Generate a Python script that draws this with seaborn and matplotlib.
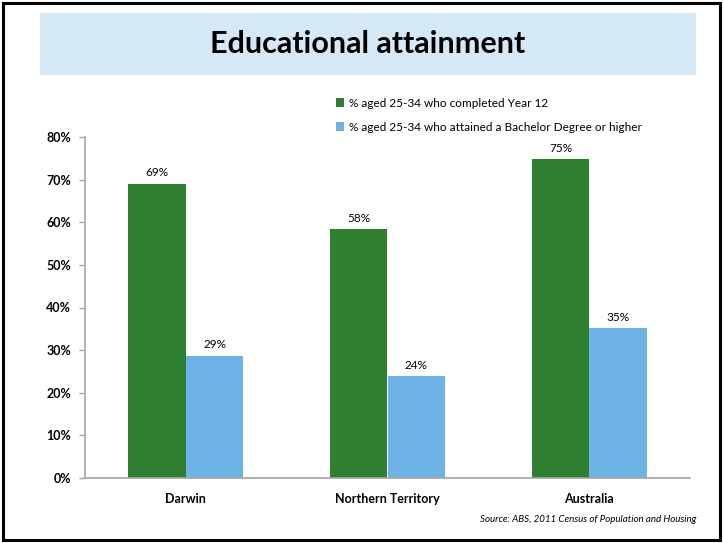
import matplotlib
matplotlib.use("Agg")
import matplotlib.pyplot as plt
from matplotlib.patches import Rectangle, Patch
import seaborn as sns
import pandas as pd

# data
regions = ["Darwin", "Northern Territory", "Australia"]
series = ["% aged 25-34 who completed Year 12",
          "% aged 25-34 who attained a Bachelor Degree or higher"]
year12 = [0.69, 0.584, 0.748]
bachelor = [0.287, 0.239, 0.351]
labels_year12 = ["69%", "58%", "75%"]
labels_bachelor = ["29%", "24%", "35%"]
colors = ["#2E7F30", "#6EB3E5"]

df = pd.DataFrame({
    "region": regions * 2,
    "series": [series[0]] * 3 + [series[1]] * 3,
    "value": year12 + bachelor,
})

sns.set_style("white")
plt.rcParams["font.family"] = ["Lato", "DejaVu Sans"]
plt.rcParams["text.color"] = "black"
plt.rcParams["xtick.labelcolor"] = "black"
plt.rcParams["ytick.labelcolor"] = "black"

fig = plt.figure(figsize=(7.24, 5.43), dpi=100)

# outer border and title box
fig.patches.append(Rectangle((3 / 724, 3 / 543), 717 / 724, 537 / 543,
                             transform=fig.transFigure, fill=False,
                             edgecolor="black", linewidth=2.2))
fig.patches.append(Rectangle((40 / 724, 1 - 75 / 543), 656 / 724, 62 / 543,
                             transform=fig.transFigure, facecolor="#D5E8F5",
                             edgecolor="none"))
fig.text(368 / 724, 1 - 44 / 543, "Educational attainment", ha="center",
         va="center", fontsize=22, fontweight="bold", color="black")

ax = fig.add_axes([85 / 724, 1 - 478 / 543, 605 / 724, 341 / 543])
sns.barplot(data=df, x="region", y="value", hue="series", palette=colors,
            width=0.57, saturation=1, linewidth=0, ax=ax, legend=False)

ax.set_ylim(0, 0.8)
ax.set_xlim(-0.5, 2.5)
ax.set_yticks([i / 10 for i in range(9)])
ax.set_yticklabels([f"{i * 10}%" for i in range(9)], fontsize=9,
                   fontweight="bold", color="black")
ax.set_xticks(range(3))
ax.set_xticklabels(regions, fontsize=9, fontweight="bold", color="black")
ax.set_xticks([-0.5, 0.5, 1.5, 2.5], minor=True)
ax.tick_params(axis="x", which="major", length=0, pad=11)
ax.tick_params(axis="x", which="minor", length=4, color="#A6A6A6", width=1)
ax.tick_params(axis="y", length=4, color="#A6A6A6", width=1, pad=6, left=True)
ax.set_xlabel("")
ax.set_ylabel("")
sns.despine(ax=ax)
for s in ["left", "bottom"]:
    ax.spines[s].set_color("#A6A6A6")
    ax.spines[s].set_linewidth(1.2)

for cont, labs in zip(ax.containers, [labels_year12, labels_bachelor]):
    ax.bar_label(cont, labels=labs, padding=4, fontsize=8.5, color="black")

handles = [Patch(facecolor=c, edgecolor="none") for c in colors]
fig.legend(handles, series, loc="upper left",
           bbox_to_anchor=(325 / 724, 1 - 87 / 543), frameon=False,
           fontsize=8.5, handlelength=0.7, handleheight=0.7, handletextpad=0.4,
           labelspacing=1.1, labelcolor="black")

fig.text(696 / 724, 1 - 520 / 543,
         "Source: ABS, 2011 Census of Population and Housing",
         ha="right", va="center", fontsize=7, style="italic", color="black")

fig.savefig("out.png", dpi=100)
